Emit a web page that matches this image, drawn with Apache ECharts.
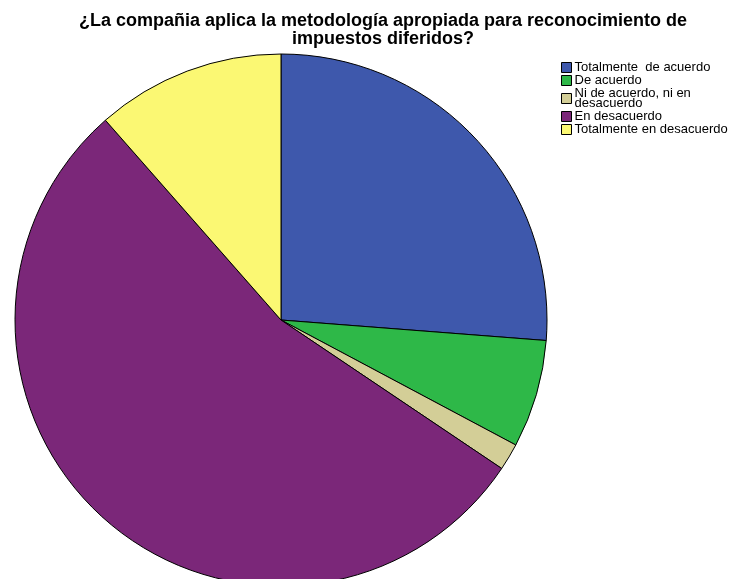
<!DOCTYPE html>
<html>
<head>
<meta charset="utf-8">
<script src="https://cdn.jsdelivr.net/npm/echarts@6/dist/echarts.min.js"></script>
<style>
  html, body { margin: 0; padding: 0; background: #fff; }
  #chart { width: 734px; height: 579px; }
</style>
</head>
<body>
<div id="chart"></div>
<script>
// categorías y frecuencias
const categories = [
  'Totalmente  de acuerdo',
  'De acuerdo',
  'Ni de acuerdo, ni en desacuerdo',
  'En desacuerdo',
  'Totalmente en desacuerdo'
];
const counts = [16, 4, 1, 33, 7];
const colors = ['#3e58ac', '#2eb848', '#d3ce97', '#7b2779', '#fbf873'];

const chart = echarts.init(document.getElementById('chart'));

const option = {
  animation: false,
  title: {
    text: '¿La compañia aplica la metodología apropiada para reconocimiento de\nimpuestos diferidos?',
    left: 378,
    textAlign: 'center',
    top: 7,
    textStyle: {
      fontFamily: 'Liberation Sans',
      fontSize: 18,
      fontWeight: 'bold',
      color: '#000',
      lineHeight: 18
    }
  },
  legend: {
    orient: 'vertical',
    left: 561,
    top: 61,
    padding: 0,
    itemWidth: 10,
    itemHeight: 10,
    itemGap: 0,
    icon: 'rect',
    itemStyle: { borderColor: '#000', borderWidth: 1 },
    textStyle: {
      fontFamily: 'Liberation Sans',
      fontSize: 13,
      color: '#000',
      lineHeight: 10,
      padding: [0, 0, 0, -2]
    },
    formatter: (name) => name.replace(', ni en ', ', ni en\n'),
    data: categories
  },
  series: [
    {
      type: 'pie',
      center: [281, 320],
      radius: 266,
      startAngle: 90,
      clockwise: true,
      label: { show: false },
      labelLine: { show: false },
      emphasis: { disabled: true },
      itemStyle: { borderColor: '#000', borderWidth: 1 },
      data: categories.map((c, i) => ({
        name: c,
        value: counts[i],
        itemStyle: { color: colors[i] }
      }))
    }
  ]
};

chart.setOption(option);
</script>
</body>
</html>
